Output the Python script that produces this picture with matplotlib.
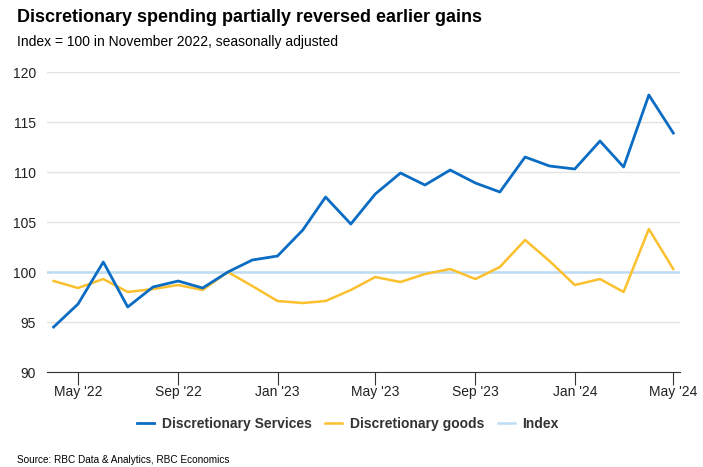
import datetime as dt

import matplotlib
matplotlib.use("Agg")
import matplotlib.pyplot as plt
import matplotlib.dates as mdates

plt.rcParams['font.family'] = ['Liberation Sans', 'DejaVu Sans']

# Monthly, Apr 2022 .. May 2024
months = [dt.date(2022 + (3 + i) // 12, (3 + i) % 12 + 1, 1) for i in range(26)]

services = [94.5, 96.8, 101.0, 96.5, 98.5, 99.1, 98.4, 100.0, 101.2, 101.6,
            104.2, 107.5, 104.8, 107.8, 109.9, 108.7, 110.2, 108.9, 108.0,
            111.5, 110.6, 110.3, 113.1, 110.5, 117.7, 113.9]
goods = [99.1, 98.4, 99.3, 98.0, 98.3, 98.7, 98.2, 100.0, 98.6, 97.1,
         96.9, 97.1, 98.2, 99.5, 99.0, 99.8, 100.3, 99.3, 100.5, 103.2,
         101.1, 98.7, 99.3, 98.0, 104.3, 100.3]
index_level = 100

BLUE = '#0a6cc2'
YELLOW = '#fbc02d'
LIGHT = '#bcdcf4'

fig = plt.figure(figsize=(7.03, 4.67), dpi=100)
ax = fig.add_axes([0.067, 0.2034, 0.9, 0.6424])

ax.axhline(index_level, color=LIGHT, lw=1.8, label='Index', zorder=2)
ax.plot(months, services, color=BLUE, lw=2.0, label='Discretionary Services', zorder=4)
ax.plot(months, goods, color=YELLOW, lw=1.8, label='Discretionary goods', zorder=3)

ax.set_ylim(90, 120)
ax.set_yticks(range(90, 121, 5))
ax.set_xlim(months[0] - dt.timedelta(days=8), months[-1] + dt.timedelta(days=8))
ax.xaxis.set_major_locator(mdates.MonthLocator(bymonth=[1, 5, 9]))
ax.xaxis.set_major_formatter(mdates.DateFormatter("%b '%y"))

ax.grid(axis='y', color='#e3e3e3', lw=1)
ax.set_axisbelow(True)
for side in ('top', 'right', 'left'):
    ax.spines[side].set_visible(False)
ax.spines['bottom'].set_color('#333333')
ax.tick_params(axis='y', length=0, labelsize=10, pad=8, labelcolor='#222222')
ax.tick_params(axis='x', length=9, color='#333333', labelsize=10, pad=0.5,
               labelcolor='#222222')

fig.text(0.024, 0.962, 'Discretionary spending partially reversed earlier gains',
         fontsize=13, fontweight='bold', va='center')
fig.text(0.024, 0.91, 'Index = 100 in November 2022, seasonally adjusted',
         fontsize=10, va='center')
fig.text(0.024, 0.016, 'Source: RBC Data & Analytics, RBC Economics',
         fontsize=7.2, va='center')

handles, labels = ax.get_legend_handles_labels()
order = [1, 2, 0]
leg = fig.legend([handles[i] for i in order], [labels[i] for i in order],
                 loc='center', bbox_to_anchor=(0.495, 0.092), ncol=3,
                 frameon=False, handlelength=1.2, columnspacing=1.0,
                 handletextpad=0.55, prop={'weight': 'bold', 'size': 10})
for t in leg.get_texts():
    t.set_color('#333333')

fig.savefig('out.png', dpi=100)
